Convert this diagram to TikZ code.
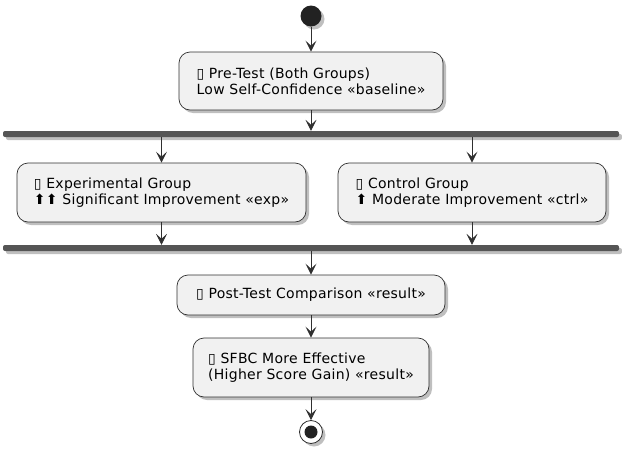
\documentclass[tikz,border=0pt]{standalone}
\usepackage{fontspec}
\setmainfont{DejaVu Sans}[LetterSpace=2]
\usetikzlibrary{shadows,arrows.meta}
\definecolor{boxfill}{HTML}{F1F1F1}
\definecolor{linec}{HTML}{303030}
\definecolor{barc}{HTML}{555555}
\definecolor{dotc}{HTML}{222222}
\tikzset{
  x=1pt,y=-1pt,
  shad/.style={drop shadow={shadow xshift=3pt,shadow yshift=-3pt,fill=black,opacity=0.25}},
  act/.style={draw=linec,line width=0.7pt,fill=boxfill,rounded corners=11pt,align=left,
    font=\fontsize{14}{16}\selectfont,inner sep=0pt,shad},
  bar/.style={fill=barc,draw=none,rounded corners=2pt,minimum height=6pt,minimum width=616pt,inner sep=0pt,shad},
  flow/.style={draw=linec,line width=0.9pt,-{Stealth[length=11pt,width=11pt,inset=5pt]}},
}
\begin{document}
\begin{tikzpicture}
\useasboundingbox (0,0) rectangle (622,450);
\node[circle,fill=dotc,minimum size=21pt,inner sep=0pt,shad] (start) at (311,16) {};
\node[act,minimum width=264pt,minimum height=58pt] (pre) at (311,81)
  {▯ Pre-Test (Both Groups)\\Low Self-Confidence «baseline»};
\node[bar] (fork) at (311,134) {};
\node[act,minimum width=289pt,minimum height=59pt] (exp) at (161.5,192.5)
  {▯ Experimental Group\\⬆⬆ Significant Improvement «exp»};
\node[act,minimum width=268pt,minimum height=59pt] (ctrl) at (472,192.5)
  {▯ Control Group\\⬆ Moderate Improvement «ctrl»};
\node[bar] (join) at (311,248) {};
\node[act,minimum width=268pt,minimum height=40pt] (post) at (311,295)
  {▯ Post-Test Comparison «result»};
\node[act,minimum width=236pt,minimum height=59pt] (sfbc) at (311,367.5)
  {▯ SFBC More Effective\\(Higher Score Gain) «result»};
\node[circle,draw=linec,line width=0.8pt,fill=white,minimum size=23pt,inner sep=0pt,shad] (stop) at (311,432) {};
\node[circle,fill=dotc,minimum size=13pt,inner sep=0pt] (stopdot) at (stop.center) {};

\draw[flow] (start) -- (pre);
\draw[flow] (pre) -- (pre.south |- fork.north);
\draw[flow] (exp.north |- fork.south) -- (exp);
\draw[flow] (ctrl.north |- fork.south) -- (ctrl);
\draw[flow] (exp) -- (exp.south |- join.north);
\draw[flow] (ctrl) -- (ctrl.south |- join.north);
\draw[flow] (post.north |- join.south) -- (post);
\draw[flow] (post) -- (sfbc);
\draw[flow] (sfbc) -- (stop);
\end{tikzpicture}
\end{document}
